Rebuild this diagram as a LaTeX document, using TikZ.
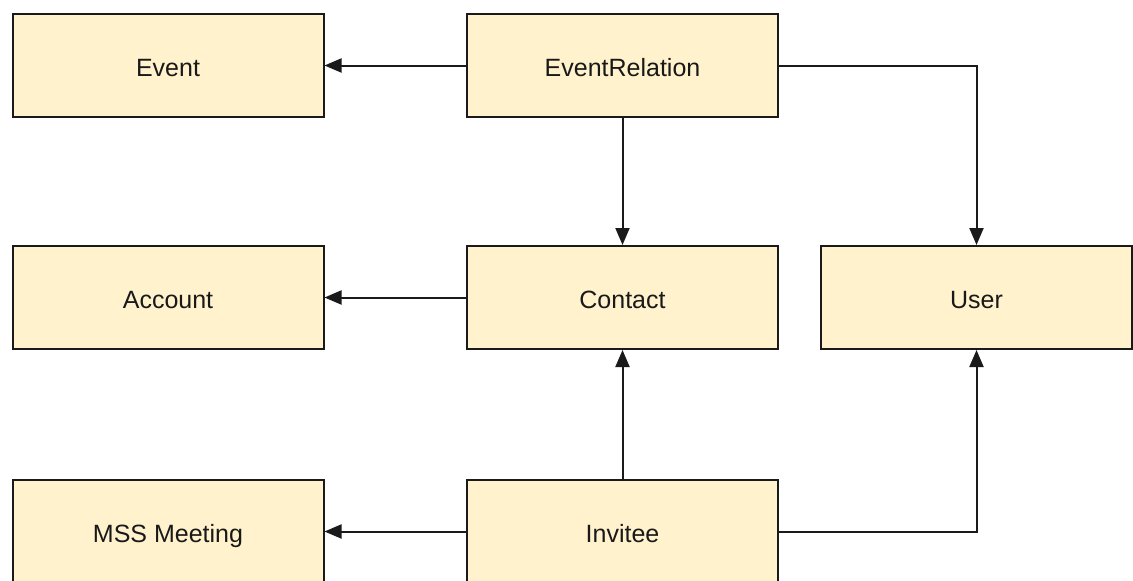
\documentclass[tikz,border=0pt]{standalone}
\usepackage{fontspec}
\setmainfont{Liberation Sans}
\usetikzlibrary{arrows.meta}
\definecolor{boxfill}{HTML}{FFF2CC}
\definecolor{boxline}{HTML}{1A1A1A}
\tikzset{
  entity/.style={draw=boxline, fill=boxfill, line width=2pt, minimum width=311pt, minimum height=103pt, inner sep=0pt, font=\fontsize{25}{29}\selectfont, text=black!90, text height=21pt, text depth=0pt},
  conn/.style={draw=boxline, line width=2pt, -{Triangle[length=17pt,width=14pt]}}
}
\begin{document}
\begin{tikzpicture}[x=1pt,y=-1pt]
\useasboundingbox[fill=white] (0,0) rectangle (1133,581);
\node[entity] (event) at (168,65.5) {Event};
\node[entity] (evrel) at (622.5,65.5) {EventRelation};
\node[entity] (account) at (168,297.5) {Account};
\node[entity] (contact) at (622.5,297.5) {Contact};
\node[entity] (user) at (976.5,297.5) {User};
\node[entity] (mss) at (168,531.5) {MSS Meeting};
\node[entity] (invitee) at (622.5,531.5) {Invitee};
\draw[conn] (evrel.west) -- (event.east);
\draw[conn] (evrel.east) -| (user.north);
\draw[conn] (evrel.south) -- (contact.north);
\draw[conn] (contact.west) -- (account.east);
\draw[conn] (invitee.north) -- (contact.south);
\draw[conn] (invitee.west) -- (mss.east);
\draw[conn] (invitee.east) -| (user.south);
\end{tikzpicture}
\end{document}
